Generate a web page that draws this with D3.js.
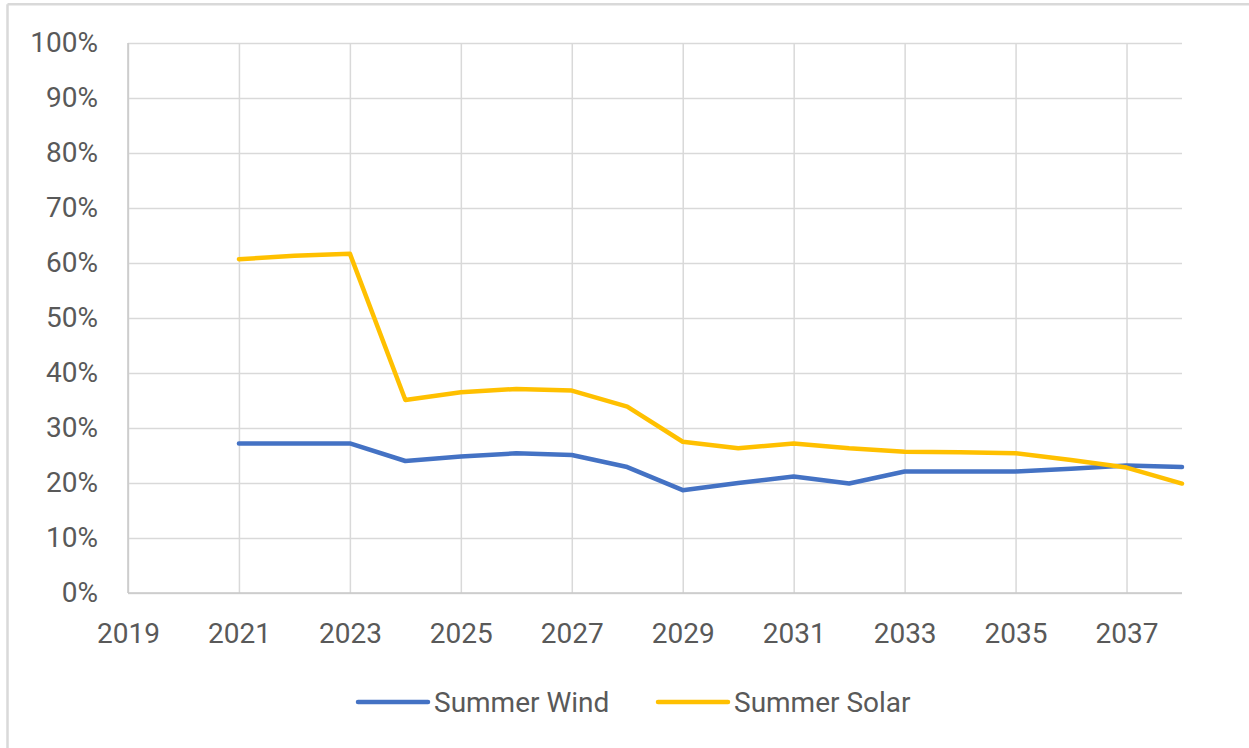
<!DOCTYPE html>
<html>
<head>
<meta charset="utf-8">
<script src="https://cdn.jsdelivr.net/npm/d3@7"></script>
<style>
  body { margin: 0; background: #fff; }
  #chart { width: 1249px; height: 748px; }
</style>
</head>
<body>
<div id="chart"></div>
<script>
const years = [2021, 2022, 2023, 2024, 2025, 2026, 2027, 2028, 2029, 2030, 2031, 2032, 2033, 2034, 2035, 2036, 2037, 2038];
const summerWind = [0.272, 0.272, 0.272, 0.240, 0.248, 0.254, 0.251, 0.229, 0.187, 0.200, 0.212, 0.199, 0.221, 0.221, 0.221, 0.226, 0.232, 0.229];
const summerSolar = [0.607, 0.613, 0.617, 0.351, 0.365, 0.371, 0.368, 0.339, 0.275, 0.263, 0.272, 0.263, 0.257, 0.256, 0.254, 0.242, 0.228, 0.199];
const xTicks = [2019, 2021, 2023, 2025, 2027, 2029, 2031, 2033, 2035, 2037];
const yTicks = [0, 0.1, 0.2, 0.3, 0.4, 0.5, 0.6, 0.7, 0.8, 0.9, 1.0];
const seriesNames = ["Summer Wind", "Summer Solar"];
const seriesColors = ["#4472C4", "#FFC000"];

function drawChart(width, height) {
  const margin = { top: 43, right: 67, bottom: 155, left: 128 };
  const innerWidth = width - margin.left - margin.right;
  const innerHeight = height - margin.top - margin.bottom;
  const font = "Roboto, 'Open Sans', sans-serif";

  const root = d3.select("#chart")
    .append("svg")
    .attr("width", width)
    .attr("height", height)
    .attr("viewBox", `0 0 ${width} ${height}`);

  // outer frame (only top and left edges show in the crop)
  root.append("line")
    .attr("x1", 7.5).attr("x2", width)
    .attr("y1", 4.3).attr("y2", 4.3)
    .attr("stroke", "#d9d9d9").attr("stroke-width", 2.5);
  root.append("line")
    .attr("x1", 7.5).attr("x2", 7.5)
    .attr("y1", 4.3).attr("y2", height)
    .attr("stroke", "#d9d9d9").attr("stroke-width", 2.5);

  const svg = root.append("g")
    .attr("transform", `translate(${margin.left},${margin.top})`);

  const xScale = d3.scaleLinear()
    .domain([2019, 2038])
    .range([0, innerWidth]);

  const yScale = d3.scaleLinear()
    .domain([0, 1])
    .range([innerHeight, 0]);

  // horizontal grid
  svg.append("g")
    .attr("class", "grid")
    .call(d3.axisLeft(yScale)
      .tickValues(yTicks)
      .tickSize(-innerWidth)
      .tickFormat(""))
    .call(g => g.select(".domain").remove())
    .selectAll(".tick line")
    .attr("stroke", "#d9d9d9")
    .attr("stroke-width", 1.5);

  // vertical grid
  svg.append("g")
    .attr("class", "grid")
    .attr("transform", `translate(0,${innerHeight})`)
    .call(d3.axisBottom(xScale)
      .tickValues(xTicks)
      .tickSize(-innerHeight)
      .tickFormat(""))
    .call(g => g.select(".domain").remove())
    .selectAll(".tick line")
    .attr("stroke", "#d9d9d9")
    .attr("stroke-width", 1.5);

  // axis lines
  svg.append("line")
    .attr("x1", 0).attr("x2", innerWidth)
    .attr("y1", yScale(0)).attr("y2", yScale(0))
    .attr("stroke", "#c8c8c8").attr("stroke-width", 1.5);
  svg.append("line")
    .attr("x1", xScale(2019)).attr("x2", xScale(2019))
    .attr("y1", 0).attr("y2", innerHeight)
    .attr("stroke", "#c8c8c8").attr("stroke-width", 1.5);

  const xAxis = svg.append("g")
    .attr("transform", `translate(0,${innerHeight})`)
    .call(d3.axisBottom(xScale)
      .tickValues(xTicks)
      .tickSize(0)
      .tickPadding(30)
      .tickFormat(d3.format("d")));
  xAxis.select(".domain").remove();
  xAxis.selectAll("text")
    .attr("fill", "#595959")
    .style("font-family", font)
    .style("font-size", "28px");

  const yAxis = svg.append("g")
    .call(d3.axisLeft(yScale)
      .tickValues(yTicks)
      .tickSize(0)
      .tickPadding(30)
      .tickFormat(d3.format(".0%")));
  yAxis.select(".domain").remove();
  yAxis.selectAll("text")
    .attr("fill", "#595959")
    .style("font-family", font)
    .style("font-size", "28px");

  const line = d3.line()
    .x(d => xScale(d.year))
    .y(d => yScale(d.value));

  [summerWind, summerSolar].forEach((values, i) => {
    svg.append("path")
      .datum(years.map((year, j) => ({ year, value: values[j] })))
      .attr("fill", "none")
      .attr("stroke", seriesColors[i])
      .attr("stroke-width", 4.5)
      .attr("stroke-linejoin", "round")
      .attr("stroke-linecap", "round")
      .attr("d", line);
  });

  // legend
  const legendX = [358, 658];
  const legendY = 702;
  const legend = root.append("g");
  seriesNames.forEach((name, i) => {
    legend.append("line")
      .attr("x1", legendX[i]).attr("x2", legendX[i] + 70)
      .attr("y1", legendY).attr("y2", legendY)
      .attr("stroke", seriesColors[i])
      .attr("stroke-width", 4.5)
      .attr("stroke-linecap", "round");
    legend.append("text")
      .attr("x", legendX[i] + 76)
      .attr("y", legendY)
      .attr("dy", "0.35em")
      .attr("fill", "#595959")
      .style("font-family", font)
      .style("font-size", "28px")
      .text(name);
  });
}

drawChart(1249, 748);
</script>
</body>
</html>
